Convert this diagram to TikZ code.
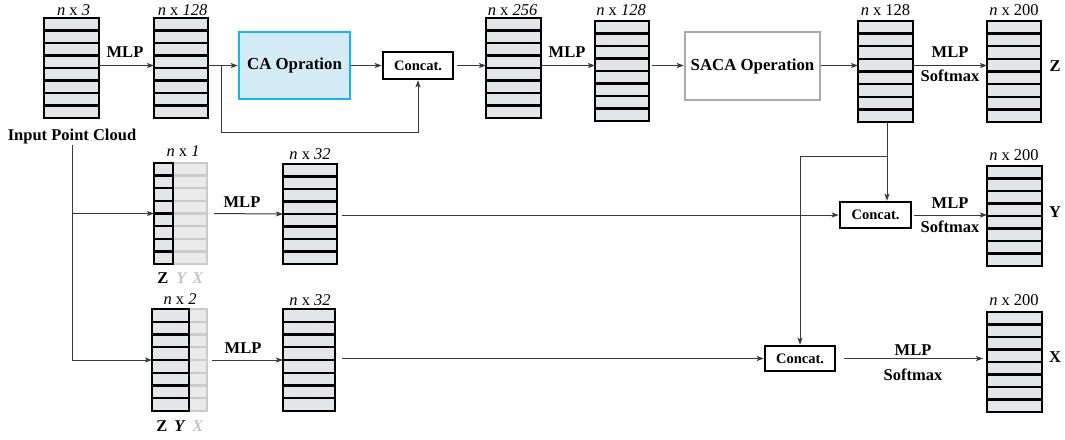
\documentclass[tikz,border=0pt]{standalone}
\usepackage{fontspec}
\setmainfont{Liberation Serif}
\usetikzlibrary{arrows.meta,fit}
\definecolor{rowfill}{HTML}{E4E5E7}
\definecolor{ghostfill}{HTML}{EAEAEA}
\definecolor{ghostline}{HTML}{CACACA}
\definecolor{cablue}{HTML}{1AB4EA}
\definecolor{cafill}{HTML}{D3EBF5}
\definecolor{sacagray}{HTML}{A9A9A9}
\definecolor{linegray}{HTML}{3A3A3A}
\definecolor{ghosttext}{HTML}{C4C4C4}
\newcommand{\rowstack}[7]{%
  \fill[#6] (#2,#3) rectangle (#4,#5);
  \foreach \k in {1,...,7}{\draw[line width=2.3pt,#7] (#2,{#3+\k*(#5-#3)/8}) -- (#4,{#3+\k*(#5-#3)/8});}
  \draw[line width=2.3pt,#7] (#2,#3) rectangle (#4,#5);
  \node[inner sep=0pt,outer sep=0pt,fit={(#2,#3)(#4,#5)}] (#1) {};
}
\tikzset{
  lbl/.style={font=\fontsize{16.5}{19}\selectfont, anchor=base, inner sep=0pt},
  bl/.style={font=\fontsize{16.5}{19}\selectfont\bfseries, anchor=base, inner sep=0pt},
  conn/.style={draw=linegray, line width=1pt, -{Stealth[length=7pt,width=5pt,inset=1.5pt]}},
  plainline/.style={draw=linegray, line width=1pt},
  opbox/.style={draw, line width=2.5pt, inner sep=0pt, font=\fontsize{16.8}{19}\selectfont\bfseries},
  catbox/.style={draw=black, line width=2.5pt, inner sep=0pt, fill=white, font=\fontsize{14.5}{17}\selectfont\bfseries},
}
\begin{document}
\begin{tikzpicture}[x=1pt,y=-1pt]
\useasboundingbox (0,0) rectangle (1065,439);
% ---- top row stacks
\rowstack{s1}{44}{18}{99}{118}{rowfill}{black}
\rowstack{s2}{154}{18}{208}{118}{rowfill}{black}
\rowstack{s3}{486}{18}{541}{118}{rowfill}{black}
\rowstack{s4}{595}{21}{649}{121}{rowfill}{black}
\rowstack{s5}{858}{21}{913}{122}{rowfill}{black}
\rowstack{s6}{987}{21}{1041}{122}{rowfill}{black}
% ---- row 2
\rowstack{r2a}{154}{163}{207}{264}{ghostfill}{ghostline}
\rowstack{r2z}{154}{163}{173}{264}{rowfill}{black}
\rowstack{r2b}{283}{164}{337}{264}{rowfill}{black}
\rowstack{sy}{987}{166}{1042}{266}{rowfill}{black}
% ---- row 3
\rowstack{r3a}{152}{309}{207}{411}{ghostfill}{ghostline}
\rowstack{r3z}{152}{309}{189}{411}{rowfill}{black}
\rowstack{r3b}{283}{309}{335}{411}{rowfill}{black}
\rowstack{sx}{987}{312}{1042}{412}{rowfill}{black}
% ---- boxes
\node[opbox, draw=cablue, fill=cafill, minimum width=111pt, minimum height=67pt] (ca) at (294.5,65.5) {CA Opration};
\node[catbox, minimum width=70pt, minimum height=27pt] (c1) at (418,65.5) {Concat.};
\node[opbox, draw=sacagray, fill=white, minimum width=135pt, minimum height=68pt] (saca) at (752.5,66) {SACA Operation};
\node[catbox, minimum width=71pt, minimum height=26pt] (cy) at (875.5,215) {Concat.};
\node[catbox, minimum width=70pt, minimum height=25pt] (cx) at (800,358.5) {Concat.};
% ---- dimension labels
\node[lbl] (l1) at (73.5,15) {\textit{n} x \textit{3}};
\node[lbl] (l2) at (182.5,15) {\textit{n} x \textit{128}};
\node[lbl] (l3) at (512.5,15) {\textit{n} x \textit{256}};
\node[lbl] (l4) at (621,16) {\textit{n} x \textit{128}};
\node[lbl] (l5) at (885.5,16) {\textit{n} x 128};
\node[lbl] (l6) at (1014,16) {\textit{n} x 200};
\node[lbl] (l7) at (183,156) {\textit{n} x \textit{1}};
\node[lbl] (l8) at (310,159) {\textit{n} x \textit{32}};
\node[lbl] (l9) at (1014,160) {\textit{n} x 200};
\node[lbl] (l10) at (180,304) {\textit{n} x \textit{2}};
\node[lbl] (l11) at (310,305) {\textit{n} x \textit{32}};
\node[lbl] (l12) at (1014,305) {\textit{n} x 200};
% ---- bold labels
\node[bl, inner sep=1pt] (inp) at (72,140) {Input Point Cloud};
\node[bl] (m1) at (125,57) {MLP};
\node[bl] (m2) at (567,57) {MLP};
\node[bl] (m3) at (950,57) {MLP};
\node[bl] (sm3) at (950,81) {Softmax};
\node[bl] (m4) at (242,207) {MLP};
\node[bl] (m5) at (950,208) {MLP};
\node[bl] (sm5) at (950,232) {Softmax};
\node[bl] (m6) at (243,353) {MLP};
\node[bl] (m7) at (913,355) {MLP};
\node[bl] (sm7) at (913,380) {Softmax};
\node[bl] (oz) at (1055,71) {Z};
\node[bl] (oy) at (1055,217) {Y};
\node[bl] (ox) at (1055,362) {X};
\node[bl] (z2) at (163,283) {Z};
\node[bl, text=ghosttext] (y2) at (182,283) {\textit{Y}};
\node[bl, text=ghosttext] (x2) at (198,283) {\textit{X}};
\node[bl] (z3) at (162,431) {Z};
\node[bl] (y3) at (180,431) {\textit{Y}};
\node[bl, text=ghosttext] (x3) at (198,431) {\textit{X}};
% ---- coordinates
\coordinate (b1) at (221,65.5);
\coordinate (b2) at (221,132);
\coordinate (br) at (887,156);
% ---- connectors top row
\draw[conn] (s1.east |- ca.west) -- (s2.west |- ca.west);
\draw[plainline] (s2.east |- ca.west) -- (b1);
\draw[conn] (b1) -- (ca.west);
\draw[conn] (b1) -- (b2) -| (c1.south);
\draw[conn] (ca.east) -- (c1.west);
\draw[conn, shorten <=3pt] (c1.east) -- (s3.west |- c1.east);
\draw[conn] (s3.east |- c1.east) -- (s4.west |- c1.east);
\draw[conn, shorten <=3pt] (s4.east |- c1.east) -- (saca.west |- c1.east);
\draw[conn] (saca.east |- c1.east) -- (s5.west |- c1.east);
\draw[conn] (s5.east |- c1.east) -- (s6.west |- c1.east);
% ---- vertical from s5
\draw[conn] (s5.south -| br) -- (br |- cy.north);
\draw[conn] (br) -| (cx.north);
% ---- input branches
\draw[conn] (inp.south) |- (r2a.west);
\draw[conn] (inp.south) |- (r3a.west);
% ---- row 2
\draw[conn, shorten <=7pt] (r2a.east) -- (r2b.west);
\draw[conn, shorten <=5pt] (r2b.east |- cy.west) -- (cy.west);
\draw[conn, shorten <=2pt] (cy.east) -- (sy.west |- cy.east);
% ---- row 3
\draw[conn, shorten <=5pt] (r3a.east) -- (r3b.west);
\draw[conn, shorten <=7pt] (r3b.east |- cx.west) -- (cx.west);
\draw[conn, shorten <=8pt, shorten >=4pt] (cx.east) -- (sx.west |- cx.east);
\end{tikzpicture}
\end{document}
